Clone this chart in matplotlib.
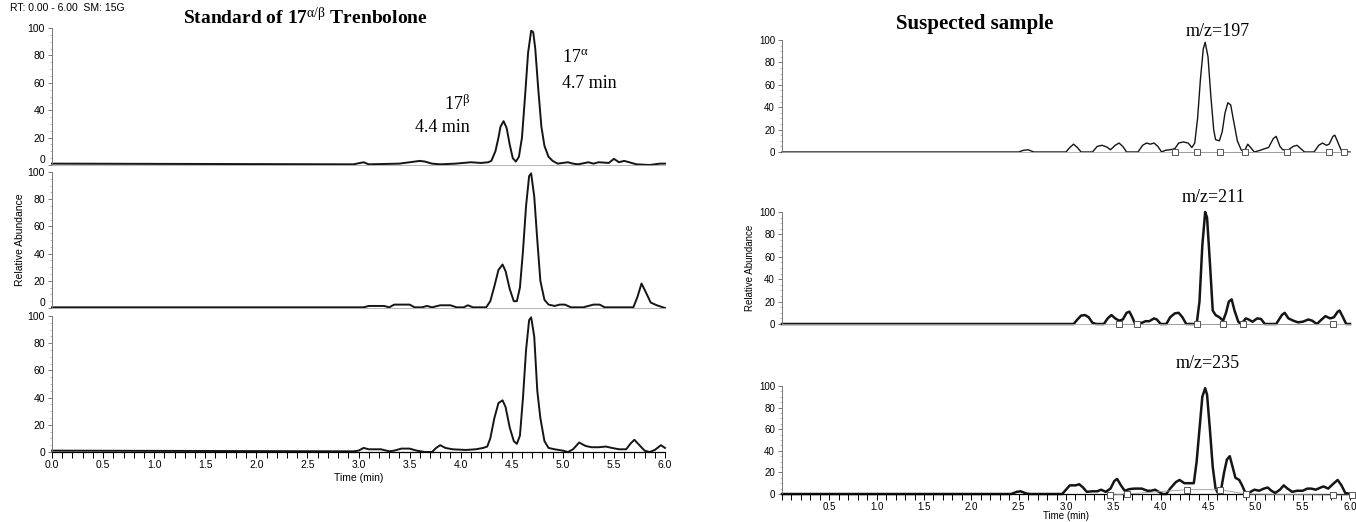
import matplotlib
matplotlib.use("Agg")
import matplotlib.pyplot as plt
from matplotlib.ticker import MultipleLocator

plt.rcParams['font.family'] = 'Liberation Sans'
plt.rcParams['mathtext.fontset'] = 'custom'
plt.rcParams['mathtext.rm'] = 'Liberation Serif'
plt.rcParams['mathtext.it'] = 'Liberation Serif:italic'
plt.rcParams['mathtext.bf'] = 'Liberation Serif:bold'

# ---- data (time in min, relative abundance %) ----
# standard, trace 1
std1_t = [0.0, 2.95, 3.05, 3.1, 3.4, 3.5, 3.6, 3.65, 3.72, 3.8, 3.95, 4.1, 4.2, 4.27,
          4.30, 4.34, 4.37, 4.39, 4.42, 4.45, 4.48, 4.51, 4.54, 4.57, 4.60, 4.63, 4.66,
          4.69, 4.71, 4.73, 4.76, 4.79, 4.82, 4.86, 4.9, 4.95, 5.05, 5.1, 5.15, 5.25,
          5.3, 5.35, 5.45, 5.5, 5.55, 5.6, 5.65, 5.72, 5.85, 5.95, 6.0]
std1_y = [1, 0.5, 2, 0.5, 1, 2, 3, 2.5, 1, 0.5, 1, 2, 1.5, 2,
          3, 10, 20, 28, 32, 27, 15, 5, 2.5, 6, 20, 50, 82,
          98, 97, 85, 55, 28, 14, 6, 3, 1, 2, 1, 0.5, 2,
          1, 2, 1.5, 4.5, 2, 3, 2, 0.5, 0, 1, 1]

# standard, trace 2
std2_t = [0.0, 3.05, 3.1, 3.25, 3.3, 3.35, 3.5, 3.55, 3.62, 3.67, 3.72, 3.8, 3.9, 3.96,
          4.03, 4.07, 4.12, 4.25, 4.29, 4.33, 4.37, 4.41, 4.44, 4.48, 4.52, 4.55, 4.58,
          4.61, 4.64, 4.67, 4.69, 4.72, 4.75, 4.78, 4.82, 4.86, 4.92, 4.97, 5.02, 5.08,
          5.2, 5.3, 5.36, 5.41, 5.69, 5.73, 5.77, 5.81, 5.86, 5.92, 6.0]
std2_y = [0.5, 0.5, 1.5, 1.5, 0.5, 2.5, 2.5, 0.5, 0.5, 1.5, 0.5, 2, 2, 0.5,
          0.5, 2, 0.5, 0.5, 5, 16, 28, 32, 27, 14, 5, 5, 15,
          42, 75, 97, 99, 82, 50, 20, 6, 2.5, 1.5, 2.5, 2.5, 0.5,
          0.5, 2.5, 2.5, 0.5, 0.5, 8, 18, 12, 4, 2, 0]

# standard, trace 3
std3_t = [0.0, 2.95, 3.0, 3.05, 3.1, 3.22, 3.3, 3.35, 3.42, 3.5, 3.57, 3.65, 3.72, 3.76,
          3.8, 3.85, 3.92, 4.05, 4.15, 4.22, 4.26, 4.29, 4.33, 4.37, 4.41, 4.44, 4.48,
          4.52, 4.55, 4.58, 4.61, 4.64, 4.67, 4.69, 4.72, 4.75, 4.78, 4.82, 4.86, 4.92,
          5.0, 5.05, 5.1, 5.16, 5.22, 5.28, 5.35, 5.42, 5.48, 5.55, 5.62, 5.66, 5.7,
          5.75, 5.8, 5.85, 5.9, 5.96, 6.0]
std3_y = [1, 0.5, 1, 3, 2, 2, 0.5, 1, 2.5, 2.5, 1, 0, 0, 3,
          5, 3, 2, 1.5, 2, 3, 4, 10, 25, 36, 38, 33, 18,
          8, 6, 12, 40, 75, 97, 99, 85, 45, 25, 8, 3, 2,
          1, 0, 2, 7, 4.5, 3.5, 3.5, 4, 3, 2, 2, 6, 9,
          5, 1, 0, 1.5, 5, 3]

# suspected sample, m/z = 197
s197_t = [0.0, 2.5, 2.55, 2.6, 2.66, 3.0, 3.04, 3.08, 3.12, 3.16, 3.28, 3.33, 3.38, 3.43,
          3.47, 3.52, 3.56, 3.6, 3.64, 3.76, 3.81, 3.85, 3.89, 3.93, 3.97, 4.01, 4.05,
          4.1, 4.15, 4.19, 4.24, 4.29, 4.33, 4.36, 4.39, 4.42, 4.45, 4.47, 4.50, 4.53,
          4.56, 4.58, 4.62, 4.65, 4.68, 4.71, 4.74, 4.77, 4.81, 4.85, 4.88, 4.92, 4.95,
          4.99, 5.05, 5.1, 5.14, 5.19, 5.22, 5.26, 5.29, 5.35, 5.4, 5.44, 5.48, 5.52,
          5.62, 5.67, 5.71, 5.75, 5.78, 5.82, 5.84, 5.87, 5.91, 5.95, 6.0]
s197_y = [0, 0, 1.5, 2, 0, 0, 4, 7, 4, 0, 0, 5, 6, 4.5,
          2, 6, 8, 5, 0, 0, 6, 8, 7, 8, 5, 0, 1.5,
          2, 3, 8, 9, 8, 4, 8, 30, 65, 92, 98, 85, 50,
          20, 11, 10, 18, 35, 44, 42, 28, 10, 2, 0, 7, 4,
          0, 1.5, 3, 4, 12, 14, 5, 2, 2, 5, 6, 3, 0,
          0, 6, 8, 6, 7, 14, 15, 9, 1, 0, 0]
s197_box_t = [4.15, 4.38, 4.63, 4.89, 5.33, 5.78, 5.94]
s197_box_y = [0, 0, 0, 0, 0, 0, 0]

# suspected sample, m/z = 211
s211_t = [0.0, 3.08, 3.12, 3.16, 3.2, 3.24, 3.28, 3.32, 3.4, 3.44, 3.48, 3.52, 3.56, 3.6,
          3.64, 3.67, 3.7, 3.73, 3.8, 3.84, 3.88, 3.93, 3.96, 4.0, 4.06, 4.1, 4.15,
          4.19, 4.23, 4.27, 4.38, 4.41, 4.44, 4.47, 4.49, 4.52, 4.55, 4.58, 4.62, 4.66,
          4.69, 4.72, 4.75, 4.78, 4.82, 4.85, 4.9, 4.93, 4.97, 5.02, 5.06, 5.1, 5.22,
          5.28, 5.31, 5.35, 5.4, 5.45, 5.5, 5.56, 5.6, 5.65, 5.7, 5.74, 5.79, 5.83,
          5.87, 5.89, 5.92, 5.96, 6.0]
s211_y = [0, 0, 4, 7.5, 8, 6, 1, 0, 0, 5, 8, 5, 3, 4,
          10, 11, 6, 0, 1, 2.5, 2.5, 5, 4, 0, 0, 6, 9.5,
          10, 6, 0, 0, 20, 70, 100, 95, 55, 12, 8, 6, 3,
          10, 20, 22, 12, 2, 0, 5, 4, 2, 5, 4.5, 0, 0,
          8, 10, 5, 3, 1.5, 2, 4, 3, 0, 4, 7, 5, 6,
          11, 12, 7, 0, 0]
s211_box_t = [3.56, 3.75, 4.38, 4.66, 4.87, 5.82]
s211_box_y = [0, 0, 0, 0, 0, 0]

# suspected sample, m/z = 235
s235_t = [0.0, 2.42, 2.48, 2.52, 2.58, 2.62, 2.96, 3.0, 3.04, 3.1, 3.14, 3.18, 3.22, 3.28,
          3.33, 3.37, 3.42, 3.47, 3.51, 3.54, 3.58, 3.62, 3.67, 3.72, 3.8, 3.86, 3.9,
          3.94, 3.98, 4.02, 4.06, 4.1, 4.16, 4.2, 4.25, 4.3, 4.35, 4.38, 4.41, 4.44,
          4.47, 4.49, 4.52, 4.55, 4.58, 4.61, 4.64, 4.67, 4.7, 4.73, 4.76, 4.79, 4.83,
          4.86, 4.9, 4.95, 4.99, 5.04, 5.09, 5.13, 5.17, 5.21, 5.26, 5.3, 5.34, 5.39,
          5.44, 5.5, 5.55, 5.59, 5.64, 5.69, 5.72, 5.77, 5.83, 5.87, 5.91, 5.95, 6.0]
s235_y = [0, 0, 2, 2.5, 0.5, 0, 0, 4, 8, 8, 9, 6, 2, 2.5,
          2.5, 4, 2, 5, 12, 14, 8, 3, 4.5, 5, 5, 3, 3,
          4, 2, 0, 0, 5, 11, 13, 10, 10, 10, 30, 60, 90,
          98, 92, 60, 25, 5, 0, 5, 20, 32, 35, 25, 15, 13,
          8, 0, 2, 4, 3, 5, 6, 3, 1, 4, 8, 5, 2,
          3, 3, 5, 5, 4, 6, 7, 5, 10, 13, 8, 1, 0]
s235_box_t = [3.46, 3.64, 4.28, 4.63, 4.9, 5.82, 6.02]
s235_box_y = [-1, 0, 4, 4, 0, -1, -1]

yticks = [0, 20, 40, 60, 80, 100]
left_xticks = [0.0, 0.5, 1.0, 1.5, 2.0, 2.5, 3.0, 3.5, 4.0, 4.5, 5.0, 5.5, 6.0]
left_xlabels = ['0.0', '0.5', '1.0', '1.5', '2.0', '2.5', '3.0', '3.5', '4.0', '4.5', '5.0', '5.5', '6.0']
right_xticks = [0.5, 1.0, 1.5, 2.0, 2.5, 3.0, 3.5, 4.0, 4.5, 5.0, 5.5, 6.0]
right_xlabels = ['0.5', '1.0', '1.5', '2.0', '2.5', '3.0', '3.5', '4.0', '4.5', '5.0', '5.5', '6.0']

W, H = 1356, 522
fig = plt.figure(figsize=(W / 100, H / 100), dpi=100)


def rect(x0, y0, x1, y1):
    return [x0 / W, 1 - y1 / H, (x1 - x0) / W, (y1 - y0) / H]


def panel(r, t, y, lw, bottom, box_t=None, box_y=None, labelsize=7.5):
    ax = fig.add_axes(r)
    ax.plot(t, y, color='#151515', lw=lw, clip_on=False, solid_joinstyle='round')
    if box_t is not None:
        ax.plot(box_t, box_y, color='#9a9a9a', lw=0.6, marker='s', ms=4.5,
                mfc='white', mec='#555555', mew=0.7, clip_on=False, zorder=3)
    ax.set_xlim(0, 6)
    ax.set_ylim(0, 100)
    ax.set_yticks(yticks)
    ax.yaxis.set_minor_locator(MultipleLocator(5))
    ax.tick_params(axis='y', which='major', length=3, width=0.6, color='#666666',
                   labelsize=labelsize, pad=2)
    ax.tick_params(axis='y', which='minor', length=1.5, width=0.5, color='#999999')
    for s in ('top', 'right'):
        ax.spines[s].set_visible(False)
    ax.spines['left'].set_color('#777777')
    ax.spines['left'].set_linewidth(0.7)
    ax.patch.set_alpha(0)
    if bottom:
        ax.spines['bottom'].set_linewidth(0.9)
        ax.xaxis.set_minor_locator(MultipleLocator(0.1))
        ax.tick_params(axis='x', which='both', direction='out', length=4, width=0.7,
                       labelsize=labelsize, pad=2)
    else:
        ax.spines['bottom'].set_color('#aaaaaa')
        ax.spines['bottom'].set_linewidth(0.6)
        ax.set_xticks([])
    return ax


# left: standard
L0, L1 = 52, 665
axt = panel(rect(L0, 28, L1, 165), std1_t, std1_y, 1.4, False)
axt.get_yticklabels()[0].set_va('bottom')   # the "0" sits on top of the next "100"
panel(rect(L0, 172, L1, 308), std2_t, std2_y, 1.4, False).get_yticklabels()[0].set_va('bottom')
axb = panel(rect(L0, 316, L1, 452), std3_t, std3_y, 1.4, True)
axb.set_xticks(left_xticks)
axb.set_xticklabels(left_xlabels)

# right: suspected sample
R0, R1 = 782, 1350
panel(rect(R0, 40, R1, 152), s197_t, s197_y, 1.0, False, s197_box_t, s197_box_y, 7)
panel(rect(R0, 212, R1, 324), s211_t, s211_y, 1.8, False, s211_box_t, s211_box_y, 7)
axr = panel(rect(R0, 386, R1, 494), s235_t, s235_y, 1.8, True, s235_box_t, s235_box_y, 7)
axr.set_xticks(right_xticks)
axr.set_xticklabels(right_xlabels)


def ftext(x, y, s, **kw):
    fig.text(x / W, 1 - y / H, s, **kw)


serif = 'Liberation Serif'
ftext(10, 8, 'RT: 0.00 - 6.00  SM: 15G', fontsize=7.5, va='center', ha='left')
ftext(305, 17, r'Standard of 17$^{\mathrm{\alpha/\beta}}$ Trenbolone', family=serif,
      weight='bold', fontsize=14, ha='center', va='center')
ftext(470, 104, r'17$^{\mathrm{\beta}}$', family=serif, fontsize=13, ha='right', va='center')
ftext(470, 128, '4.4 min', family=serif, fontsize=13, ha='right', va='center')
ftext(562, 58, r'17$^{\mathrm{\alpha}}$', family=serif, fontsize=13, ha='left', va='center')
ftext(562, 83, '4.7 min', family=serif, fontsize=13, ha='left', va='center')
ftext(20, 240, 'Relative Abundance', fontsize=7.5, rotation=90, ha='center', va='center')
ftext((L0 + L1) / 2, 478, 'Time (min)', fontsize=7.5, ha='center', va='center')

ftext(975, 24, 'Suspected sample', family=serif, weight='bold', fontsize=15,
      ha='center', va='center')
ftext(1218, 31, 'm/z=197', family=serif, fontsize=13, ha='center', va='center')
ftext(1214, 198, 'm/z=211', family=serif, fontsize=13, ha='center', va='center')
ftext(1208, 363, 'm/z=235', family=serif, fontsize=13, ha='center', va='center')
ftext(750, 268, 'Relative Abundance', fontsize=7, rotation=90, ha='center', va='center')
ftext((R0 + R1) / 2, 516, 'Time (min)', fontsize=7, ha='center', va='center')

fig.savefig('out.png', dpi=100)
